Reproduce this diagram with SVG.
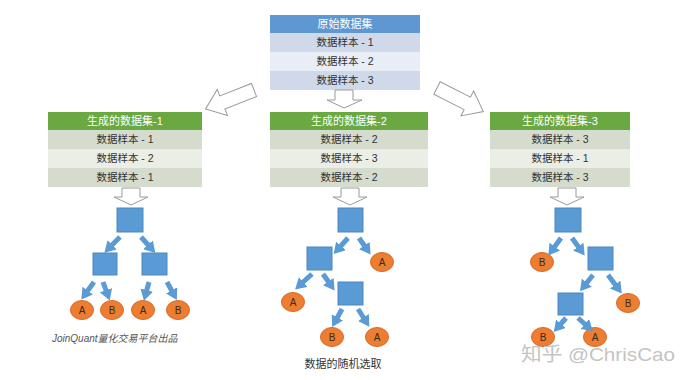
<svg xmlns="http://www.w3.org/2000/svg" width="692" height="380" viewBox="0 0 692 380">
<defs>
<style>
text{font-family:"Liberation Sans","Noto Sans CJK SC",sans-serif;}
.hd{font-size:11px;fill:#ffffff;text-anchor:middle;}
.rt{font-size:10.5px;fill:#333333;text-anchor:middle;}
.hb{fill:#5e97d2;}
.hg{fill:#6aa841;}
.rb1{fill:#d0d9e9;}
.rb2{fill:#e9edf5;}
.rg1{fill:#d6dccd;}
.rg2{fill:#ebeee6;}
.big{fill:#ffffff;stroke:#9a9a9a;stroke-width:1;}
.sq{fill:#5b9bd5;stroke:#4d86bd;stroke-width:1;}
.lf{fill:#ec7d31;stroke:#d9692a;stroke-width:1;}
.lt{font-size:10px;fill:#3a2a20;text-anchor:middle;}
.ar{stroke:#5b9bd5;stroke-width:5;fill:none;marker-end:url(#ah);}
</style>
<marker id="ah" markerUnits="userSpaceOnUse" markerWidth="13" markerHeight="13" refX="3" refY="6.5" orient="auto" viewBox="0 0 13 13">
<path d="M0,0 L11,6.5 L0,13 Z" fill="#5b9bd5"/>
</marker>
<path id="bigArrow" d="M0,-7 L34,-7 L34,-14 L52,0 L34,14 L34,7 L0,7 Z"/>
<path id="downArrow" d="M-9,0 L9,0 L9,9 L17,9 L0,17 L-17,9 L-9,9 Z"/>
</defs>

<g id="source">
<rect class="hb" x="270" y="15" width="150" height="18"/>
<text class="hd" x="345" y="28">原始数据集</text>
<rect class="rb1" x="270" y="33" width="150" height="19"/>
<text class="rt" x="345" y="46">数据样本 - 1</text>
<rect class="rb2" x="270" y="52" width="150" height="19"/>
<text class="rt" x="345" y="65">数据样本 - 2</text>
<rect class="rb1" x="270" y="71" width="150" height="19"/>
<text class="rt" x="345" y="84">数据样本 - 3</text>
</g>

<g id="set1">
<rect class="hg" x="48" y="112" width="154" height="18"/>
<text class="hd" x="125" y="125">生成的数据集-1</text>
<rect class="rg1" x="48" y="130" width="154" height="19"/>
<text class="rt" x="125" y="143">数据样本 - 1</text>
<rect class="rg2" x="48" y="149" width="154" height="19"/>
<text class="rt" x="125" y="162">数据样本 - 2</text>
<rect class="rg1" x="48" y="168" width="154" height="19"/>
<text class="rt" x="125" y="181">数据样本 - 1</text>
</g>

<g id="set2">
<rect class="hg" x="270" y="112" width="158" height="18"/>
<text class="hd" x="349" y="125">生成的数据集-2</text>
<rect class="rg1" x="270" y="130" width="158" height="19"/>
<text class="rt" x="349" y="143">数据样本 - 2</text>
<rect class="rg2" x="270" y="149" width="158" height="19"/>
<text class="rt" x="349" y="162">数据样本 - 3</text>
<rect class="rg1" x="270" y="168" width="158" height="19"/>
<text class="rt" x="349" y="181">数据样本 - 2</text>
</g>

<g id="set3">
<rect class="hg" x="490" y="112" width="140" height="18"/>
<text class="hd" x="560" y="125">生成的数据集-3</text>
<rect class="rg1" x="490" y="130" width="140" height="19"/>
<text class="rt" x="560" y="143">数据样本 - 3</text>
<rect class="rg2" x="490" y="149" width="140" height="19"/>
<text class="rt" x="560" y="162">数据样本 - 1</text>
<rect class="rg1" x="490" y="168" width="140" height="19"/>
<text class="rt" x="560" y="181">数据样本 - 3</text>
</g>

<g id="bigArrows">
<use href="#bigArrow" class="big" transform="translate(254,90) rotate(158.6)"/>
<use href="#bigArrow" class="big" transform="translate(437,88) rotate(27)"/>
<path class="big" d="M335,90 L353,90 L353,100 L362,100 L344,108 L327,100 L335,100 Z"/>
<use href="#downArrow" class="big" transform="translate(131,188)"/>
<use href="#downArrow" class="big" transform="translate(350,188)"/>
<use href="#downArrow" class="big" transform="translate(567,188)"/>
</g>

<g id="tree1">
<rect class="sq" x="117" y="208" width="26" height="24"/>
<rect class="sq" x="93" y="253" width="24" height="22"/>
<rect class="sq" x="142" y="253" width="25" height="22"/>
<ellipse class="lf" cx="82" cy="310" rx="11.5" ry="9.5"/><text class="lt" x="82" y="314">A</text>
<ellipse class="lf" cx="112" cy="310" rx="11.5" ry="9.5"/><text class="lt" x="112" y="314">B</text>
<ellipse class="lf" cx="143" cy="310" rx="11.5" ry="9.5"/><text class="lt" x="143" y="314">A</text>
<ellipse class="lf" cx="178" cy="310" rx="11.5" ry="9.5"/><text class="lt" x="178" y="314">B</text>
</g>

<g id="tree2">
<rect class="sq" x="338" y="208" width="25" height="24"/>
<rect class="sq" x="307" y="247" width="25" height="23"/>
<rect class="sq" x="338" y="282" width="25" height="23"/>
<ellipse class="lf" cx="382" cy="262" rx="11.5" ry="9.5"/><text class="lt" x="382" y="266">A</text>
<ellipse class="lf" cx="293" cy="302" rx="11.5" ry="9.5"/><text class="lt" x="293" y="306">A</text>
<ellipse class="lf" cx="332" cy="337" rx="11.5" ry="9.5"/><text class="lt" x="332" y="341">B</text>
<ellipse class="lf" cx="377" cy="337" rx="11.5" ry="9.5"/><text class="lt" x="377" y="341">A</text>
</g>

<g id="tree3">
<rect class="sq" x="555" y="208" width="26" height="24"/>
<rect class="sq" x="588" y="247" width="25" height="23"/>
<rect class="sq" x="558" y="293" width="25" height="22"/>
<ellipse class="lf" cx="542" cy="262" rx="11.5" ry="9.5"/><text class="lt" x="542" y="266">B</text>
<ellipse class="lf" cx="628" cy="303" rx="11.5" ry="9.5"/><text class="lt" x="628" y="307">B</text>
<ellipse class="lf" cx="543" cy="337" rx="11.5" ry="9.5"/><text class="lt" x="543" y="341">B</text>
<ellipse class="lf" cx="595" cy="337" rx="11.5" ry="9.5"/><text class="lt" x="595" y="341">A</text>
</g>

<g id="connectors">
<line class="ar" x1="120" y1="237" x2="110" y2="247"/>
<line class="ar" x1="141" y1="237" x2="150" y2="247"/>
<line class="ar" x1="94" y1="282" x2="86" y2="293"/>
<line class="ar" x1="103" y1="282" x2="107" y2="293"/>
<line class="ar" x1="149" y1="282" x2="146" y2="293"/>
<line class="ar" x1="167" y1="282" x2="173" y2="293"/>

<line class="ar" x1="348" y1="238" x2="339" y2="248"/>
<line class="ar" x1="359" y1="238" x2="366" y2="248"/>
<line class="ar" x1="312" y1="274" x2="301" y2="284"/>
<line class="ar" x1="323" y1="274" x2="330" y2="284"/>
<line class="ar" x1="342" y1="309" x2="336" y2="320"/>
<line class="ar" x1="358" y1="309" x2="365" y2="320"/>

<line class="ar" x1="561" y1="238" x2="553" y2="249"/>
<line class="ar" x1="572" y1="238" x2="580" y2="249"/>
<line class="ar" x1="593" y1="275" x2="585" y2="285"/>
<line class="ar" x1="608" y1="275" x2="617" y2="287"/>
<line class="ar" x1="566" y1="318" x2="559" y2="326"/>
<line class="ar" x1="578" y1="318" x2="587" y2="326"/>
</g>

<text x="52" y="342" style="font-size:10px;font-style:italic;fill:#555555;">JoinQuant量化交易平台出品</text>
<text x="343" y="368" style="font-size:11px;fill:#333333;text-anchor:middle;">数据的随机选取</text>
<text x="521" y="361" textLength="154" lengthAdjust="spacingAndGlyphs" style="font-size:19px;fill:#c4c4c4;">知乎 @ChrisCao</text>
</svg>
